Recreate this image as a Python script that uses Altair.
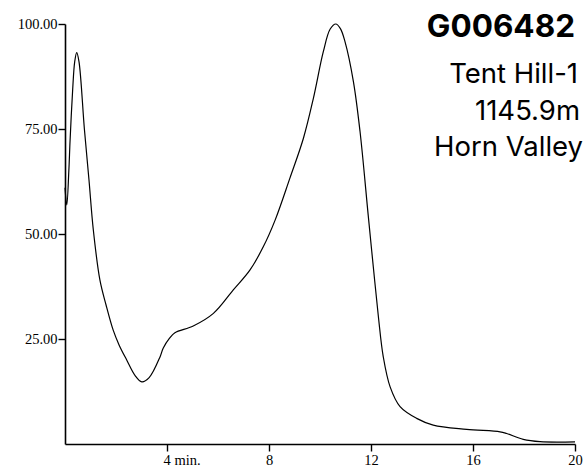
import altair as alt
import pandas as pd

# Elution trace: retention time (minutes) against relative response (%)
time_min = [0.00, 0.07, 0.15, 0.20, 0.30, 0.38, 0.46, 0.55, 0.76, 0.94,
            1.11, 1.37, 1.61, 1.89, 2.12, 2.42, 2.75, 3.01, 3.30, 3.73,
            3.85, 4.10, 4.31, 5.03, 5.82, 6.60, 7.25, 7.78, 8.24, 8.82,
            9.35, 9.74, 10.13, 10.40, 10.62, 10.80, 10.98, 11.31, 11.57, 11.89,
            12.09, 12.29, 12.48, 12.75, 13.14, 13.79, 14.44, 15.75, 17.06, 17.32,
            17.97, 18.63, 20.00]
response = [61.0, 56.9, 65.0, 72.4, 84.3, 91.0, 93.2, 91.0, 75.0, 62.9,
            51.0, 39.0, 33.1, 27.1, 23.6, 20.0, 16.3, 14.8, 15.8, 20.8,
            22.8, 25.2, 26.5, 28.1, 31.1, 36.7, 41.4, 47.0, 53.3, 63.3,
            72.8, 82.3, 93.4, 98.8, 100.0, 98.9, 95.8, 86.3, 74.4, 54.5,
            42.2, 30.3, 20.8, 13.6, 8.9, 6.1, 4.5, 3.5, 2.9, 2.5,
            1.1, 0.55, 0.5]

x_ticks = [4, 8, 12, 16, 20]
y_ticks = [25, 50, 75, 100]

sample_id = "G006482"
well_name = "Tent Hill-1"
depth = "1145.9m"
formation = "Horn Valley"

trace = pd.DataFrame({"time": time_min, "response": response})

W, H = 510, 420

line = alt.Chart(trace).mark_line(
    color="black", strokeWidth=1.2, interpolate="catmull-rom"
).encode(
    x=alt.X("time:Q",
            scale=alt.Scale(domain=[0, 20], nice=False, zero=False),
            axis=alt.Axis(values=x_ticks, title=None,
                          labelExpr="datum.value == 4 ? '4 min.' : datum.label",
                          labelAlign={"condition": {"test": "datum.value == 4", "value": "left"},
                                      "value": "center"},
                          labelOffset={"condition": {"test": "datum.value == 4", "value": -4},
                                       "value": 0},
                          labelBaseline="top", labelPadding=2)),
    y=alt.Y("response:Q",
            scale=alt.Scale(domain=[0, 100], nice=False),
            axis=alt.Axis(values=y_ticks, title=None, format=".2f",
                          labelPadding=1)),
)

one = pd.DataFrame({"k": [0]})


def label(text, right, baseline, size, weight="normal"):
    return alt.Chart(one).mark_text(
        text=text, align="right", baseline="alphabetic",
        font="Inter", fontSize=size, fontWeight=weight, color="black",
    ).encode(x=alt.value(right), y=alt.value(baseline))


chart = alt.layer(
    line,
    label(sample_id, 510, 13, 31.5, "bold"),
    label(well_name, 513, 59, 27.5),
    label(depth, 515, 96, 27.5),
    label(formation, 518, 132, 27.5),
).properties(
    width=W, height=H,
    padding={"left": 65, "top": 24, "right": 12, "bottom": 26},
    autosize=alt.AutoSizeParams(type="none"),
).configure_view(
    stroke=None
).configure_axis(
    grid=False,
    domainColor="black", domainWidth=1.6,
    tickColor="black", tickWidth=1.4, tickSize=7,
    labelFont="Liberation Serif", labelFontSize=14.5, labelColor="black",
)

chart.save("out.html", embed_options={"renderer": "svg", "actions": False})
